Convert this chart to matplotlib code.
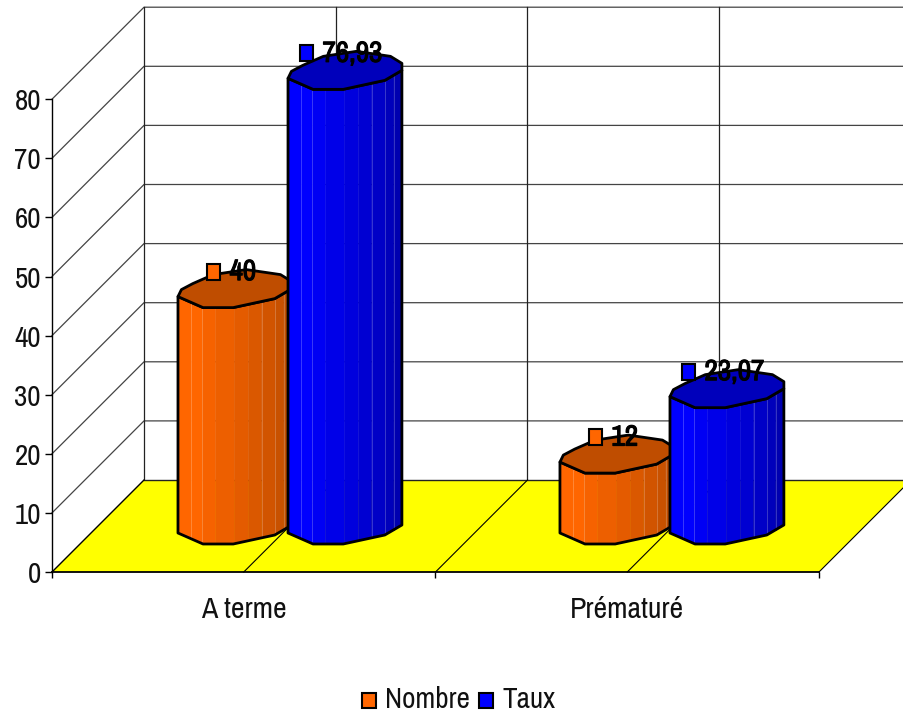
import numpy as np
import matplotlib
matplotlib.use('Agg')
import matplotlib.pyplot as plt
import matplotlib.patheffects as pe
from matplotlib.patches import Polygon, Rectangle

plt.rcParams['font.family'] = ['Archivo Narrow', 'Liberation Sans', 'DejaVu Sans']

categories = ['A terme', 'Prématuré']
series_names = ['Nombre', 'Taux']
nombre = [40, 12]
taux = [76.93, 23.07]
label_nombre = ['40', '12']
label_taux = ['76,93', '23,07']
y_ticks = [0, 10, 20, 30, 40, 50, 60, 70, 80]

W, H = 904, 718
X0, Y0 = 52, 572          # pixel position of the front corner
CAT_PX = 383.5            # pixels per category
VAL_PX = 5.91             # pixels per unit of value
DEPTH = 92                # depth of the floor in pixels

fig = plt.figure(figsize=(W / 100, H / 100), dpi=100)
ax = fig.add_axes([0, 0, 1, 1])
ax.set_xlim(-X0 / CAT_PX, (W - X0) / CAT_PX)
ax.set_ylim((Y0 - H) / VAL_PX, Y0 / VAL_PX)
ax.set_facecolor('white')

dx = DEPTH / CAT_PX
dy = DEPTH / VAL_PX


def px_x(p):
    return p / CAT_PX


def px_y(p):
    return p / VAL_PX


# floor
ax.add_patch(Polygon([(0, 0), (2, 0), (2 + dx, dy), (dx, dy)], closed=True, fc='#ffff00',
                     ec='none', zorder=1))
ax.plot([0, dx], [0, dy], color='black', lw=1.0, zorder=1.2)
for x in [0.5, 1, 1.5, 2]:
    ax.plot([x, x + dx], [0, dy], color='black', lw=0.8, zorder=1.2)

# walls
for v in y_ticks[1:]:
    ax.plot([0, dx, 2 + dx], [v, v + dy, v + dy], color='#444444', lw=0.9, zorder=0.8)
ax.plot([dx, 2 + dx], [dy, dy], color='#222222', lw=1.0, zorder=1.1)
for x in [0, 0.5, 1, 1.5]:
    ax.plot([x + dx, x + dx], [dy, 80 + dy], color='#222222', lw=0.9, zorder=0.8)

# axes
for s in ['top', 'right']:
    ax.spines[s].set_visible(False)
ax.spines['left'].set_position(('data', 0))
ax.spines['bottom'].set_position(('data', 0))
ax.spines['left'].set_bounds(0, 80)
ax.spines['bottom'].set_bounds(0, 2)
ax.spines['left'].set_linewidth(1.0)
ax.spines['bottom'].set_linewidth(1.3)
ax.set_yticks(y_ticks)
ax.set_xticks([0, 1, 2])
ax.set_xticklabels([])
ax.set_xticks([0.5, 1.5], minor=True)
ax.set_xticklabels(categories, minor=True, fontsize=21.5, color='#111111')
ax.tick_params(axis='y', direction='out', length=5, width=1, pad=3, labelsize=21, labelcolor='#111111')
ax.tick_params(axis='x', which='major', direction='out', length=4.5, width=1)
ax.tick_params(axis='x', which='minor', length=0, pad=17)

# outline of the cylinder seen from above, as width fraction / pixels above the front
front_f = np.array([0, 0.22, 0.485, 0.85, 1.0])
front_h = np.array([11, 0, 0, 9, 19])
back_f = np.array([1.0, 0.9, 0.6, 0.31, 0.13, 0.03, 0])
back_h = np.array([26, 33, 38, 33, 24, 18, 11])
strip_f = np.array([0, 0.118, 0.215, 0.33, 0.494, 0.618, 0.735, 0.853, 0.93, 1.0])
BAR_W = 0.297
BASE = 28 / VAL_PX


def cylinder(left, value, light, dark, edge_top, z):
    width = BAR_W
    light = np.array(matplotlib.colors.to_rgb(light))
    dark = np.array(matplotlib.colors.to_rgb(dark))
    f = np.unique(np.concatenate([front_f, strip_f]))
    h = np.interp(f, front_f, front_h)
    xs = left + f * width
    ybot = BASE + px_y(h)
    ytop = BASE + value + px_y(h)
    # shaded side, one strip at a time
    for i in range(len(strip_f) - 1):
        a, b = strip_f[i], strip_f[i + 1]
        mask = (f >= a) & (f <= b)
        verts = list(zip(xs[mask], ytop[mask])) + list(zip(xs[mask][::-1], ybot[mask][::-1]))
        t = max(0, (i - 1) / (len(strip_f) - 3))
        col = light + (dark - light) * t
        ax.add_patch(Polygon(verts, closed=True, fc=col, ec=col, lw=0.3, zorder=z))
        if i in (1, 2, 6, 7, 8):
            sx = left + a * width
            sh = np.interp(a, front_f, front_h)
            ax.plot([sx, sx], [BASE + px_y(sh), BASE + value + px_y(sh)],
                    color=col + (np.array([1, 1, 1]) - col) * 0.25, lw=0.6, zorder=z + 0.1)
    # outline of side
    outline = list(zip(xs, ytop)) + list(zip(xs[::-1], ybot[::-1]))
    ax.add_patch(Polygon(outline, closed=True, fc='none', ec='black', lw=2.0, joinstyle='round', zorder=z + 0.2))
    # top cap
    cap = [(left + a * width, BASE + value + px_y(b)) for a, b in zip(front_f, front_h)]
    cap += [(left + a * width, BASE + value + px_y(b)) for a, b in zip(back_f, back_h)]
    ax.add_patch(Polygon(cap, closed=True, fc=edge_top, ec='black', lw=2.0, joinstyle='round', zorder=z + 0.3))


def value_label(left, value, text, color, off_x):
    x = left + px_x(off_x)
    y = BASE + value + px_y(36)
    ax.add_patch(Rectangle((x - px_x(6.5), y - px_y(8)), px_x(13), px_y(16), fc=color, ec='black',
                           lw=1.5, zorder=7))
    ax.text(x + px_x(16), y, text, fontsize=21, fontweight='bold', color='black', ha='left',
            va='center', zorder=8, path_effects=[pe.withStroke(linewidth=0.8, foreground='black')])


orange = '#ff6600'
blue = '#0000ff'
for c in range(2):
    left_o = c + 0.3285 - (0.004 if c else 0)
    left_b = c + 0.6154 - (0.004 if c else 0)
    cylinder(left_o, nombre[c], orange, '#bf4d00', '#bf4d00', 3)
    cylinder(left_b, taux[c], blue, '#0000b0', '#0000bb', 4)
    value_label(left_o, nombre[c], label_nombre[c], orange, 35.5)
    value_label(left_b, taux[c], label_taux[c], blue, 18.5)

# legend
for name, col, sq_px, txt_px in zip(series_names, [orange, blue], [362, 479], [385, 503]):
    ax.add_patch(Rectangle((px_x(sq_px - X0), px_y(Y0 - 708)), px_x(14), px_y(15), fc=col, ec='black', lw=1.5,
                           zorder=5))
    ax.text(px_x(txt_px - X0), px_y(Y0 - 700), name, fontsize=21, color='#111111', ha='left', va='center')

fig.savefig('out.png', dpi=100, facecolor='white')
